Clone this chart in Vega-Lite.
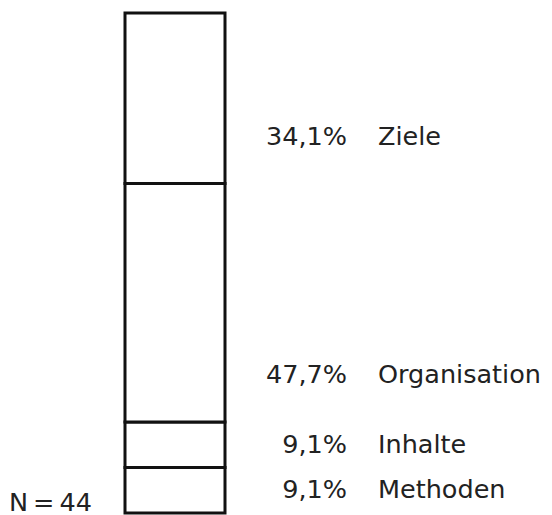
{
  "$schema": "https://vega.github.io/schema/vega-lite/v6.json",
  "autosize": {"type": "none"},
  "width": 100,
  "height": 500,
  "padding": {"left": 125, "top": 13, "right": 327, "bottom": 2},
  "background": "white",
  "config": {"view": {"stroke": null}, "text": {"font": "DejaVu Sans", "fontSize": 25.5, "color": "#222"}},
  "data": {"values": [
    {"g": "A", "kategorie": "Methoden", "anteil": 9.1, "ord": 1, "pct": "9,1%"},
    {"g": "A", "kategorie": "Inhalte", "anteil": 9.1, "ord": 2, "pct": "9,1%"},
    {"g": "A", "kategorie": "Organisation", "anteil": 47.7, "ord": 3, "pct": "47,7%"},
    {"g": "A", "kategorie": "Ziele", "anteil": 34.1, "ord": 4, "pct": "34,1%"}
  ]},
  "transform": [
    {"stack": "anteil", "groupby": ["g"], "sort": [{"field": "ord", "order": "ascending"}], "as": ["y0", "y1"]},
    {"calculate": "datum.y0 + min((datum.y1 - datum.y0) / 2, 9.4)", "as": "labely"}
  ],
  "layer": [
    {
      "mark": {"type": "bar", "fill": "white", "stroke": "#111", "strokeWidth": 3},
      "encoding": {
        "x": {"field": "g", "type": "nominal", "axis": null, "scale": {"paddingInner": 0, "paddingOuter": 0}},
        "y": {"field": "y0", "type": "quantitative", "axis": null, "scale": {"domain": [0, 100], "nice": false}},
        "y2": {"field": "y1"}
      }
    },
    {
      "mark": {"type": "text", "align": "right", "baseline": "middle", "dx": 172},
      "encoding": {
        "x": {"field": "g", "type": "nominal"},
        "y": {"field": "labely", "type": "quantitative"},
        "text": {"field": "pct"}
      }
    },
    {
      "mark": {"type": "text", "align": "left", "baseline": "middle", "dx": 203},
      "encoding": {
        "x": {"field": "g", "type": "nominal"},
        "y": {"field": "labely", "type": "quantitative"},
        "text": {"field": "kategorie"}
      }
    },
    {
      "data": {"values": [{"g": "A", "n": "N\u2009=\u200944", "y": 0}]},
      "transform": [],
      "mark": {"type": "text", "align": "right", "baseline": "alphabetic", "dx": -83, "dy": -2},
      "encoding": {
        "x": {"field": "g", "type": "nominal"},
        "y": {"field": "y", "type": "quantitative"},
        "text": {"field": "n"}
      }
    }
  ]
}
